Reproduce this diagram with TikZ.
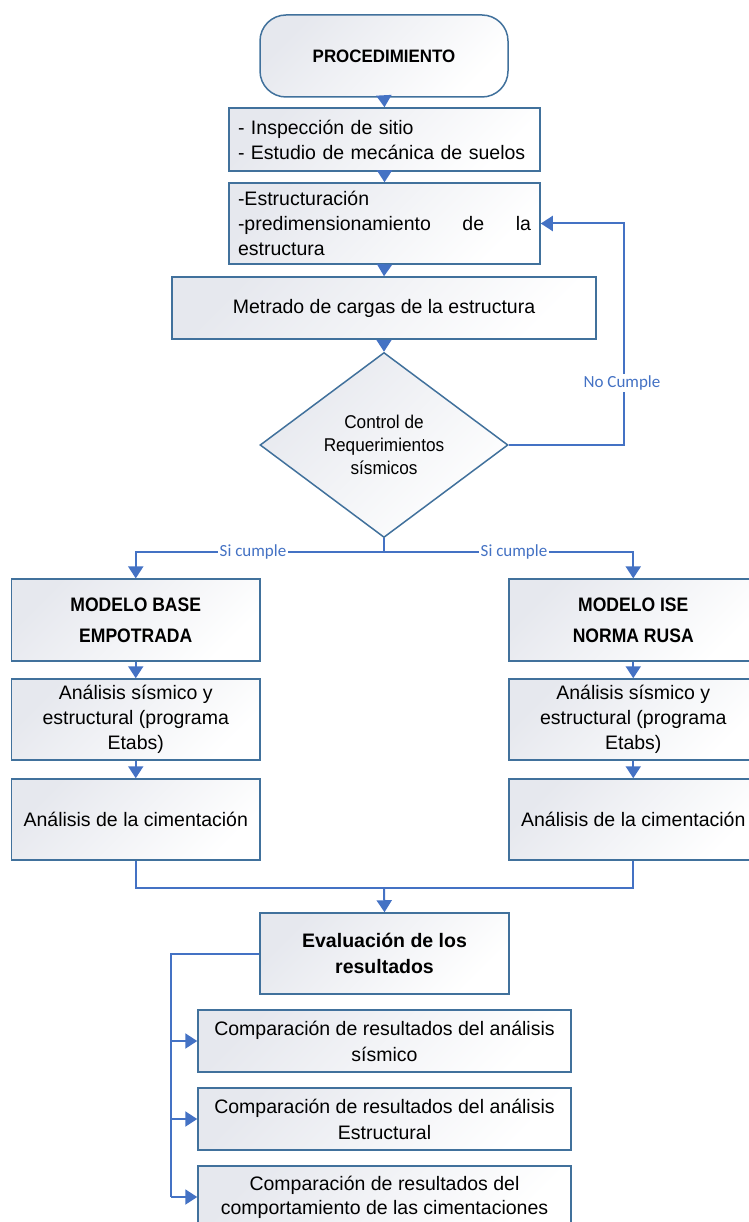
\documentclass[tikz,border=0pt]{standalone}
\usepackage{fontspec}
\setmainfont{Liberation Sans}
\newfontfamily\boldcond[FakeStretch=0.9]{Liberation Sans}
\newfontfamily\titlecond[FakeStretch=0.94]{Liberation Sans}
\newfontfamily\diacond[FakeStretch=0.93]{Liberation Sans}
\newfontfamily\lblfont{Carlito}
\usetikzlibrary{arrows.meta,shapes.geometric}
\definecolor{conn}{HTML}{4472C4}
\definecolor{bord}{HTML}{41719C}
\definecolor{shadec}{HTML}{E6E8EE}
\tikzset{
  box/.style={draw=bord, line width=1.5pt, top color=shadec, bottom color=white,
    shading angle=45, inner sep=0pt, align=center,
    font=\fontsize{19.5}{25}\selectfont},
  boldbox/.style={box, font=\fontsize{19.5}{31}\boldcond\bfseries},
  conline/.style={draw=conn, line width=2pt},
  arr/.style={conline, -{Triangle[length=12pt,width=15pt]}},
  lbl/.style={fill=white, text=conn, inner sep=1.5pt, font=\fontsize{17}{20}\lblfont},
}
\begin{document}
\begin{tikzpicture}[x=1pt,y=-1pt]
\useasboundingbox (0,0) rectangle (748,1222);

% top chain
\node[box, rounded corners=26pt, minimum width=248pt, minimum height=82pt,
  font=\fontsize{18}{22}\titlecond\bfseries] (proc) at (384,56) {PROCEDIMIENTO};
\node[box, minimum width=311pt, minimum height=63pt, text width=293pt, align=left]
  (insp) at (384.5,139.5) {- Inspección de sitio\\- Estudio de mecánica de suelos};
\node[box, minimum width=311pt, minimum height=81pt, text width=293pt, align=left]
  (estr) at (384.5,223.5) {-Estructuración\\-predimensionamiento\hfill de\hfill la\\estructura};
\node[box, minimum width=424pt, minimum height=62pt] (metr) at (384,308)
  {Metrado de cargas de la estructura};
\node[box, diamond, aspect=1.34, minimum width=248pt, minimum height=185pt,
  font=\fontsize{18.5}{23}\diacond] (diam) at (384,445)
  {Control de\\Requerimientos\\sísmicos};

% two columns
\node[boldbox, minimum width=248.5pt, minimum height=81.7pt] (mbase) at (135.75,620)
  {MODELO BASE\\EMPOTRADA};
\node[boldbox, minimum width=248.5pt, minimum height=81.7pt] (mise) at (633.25,620)
  {MODELO ISE\\NORMA RUSA};
\node[box, minimum width=248.5pt, minimum height=81pt] (asL) at (135.75,719.5)
  {Análisis sísmico y\\estructural (programa\\Etabs)};
\node[box, minimum width=248.5pt, minimum height=81pt] (asR) at (633.25,719.5)
  {Análisis sísmico y\\estructural (programa\\Etabs)};
\node[box, minimum width=248.5pt, minimum height=81pt] (acL) at (135.75,819.5)
  {Análisis de la cimentación};
\node[box, minimum width=248.5pt, minimum height=81pt] (acR) at (633.25,819.5)
  {Análisis de la cimentación};

% evaluation
\node[box, minimum width=249pt, minimum height=81pt,
  font=\fontsize{19.5}{26}\selectfont\bfseries] (eval) at (384.5,953.5)
  {Evaluación de los\\resultados};
\node[box, minimum width=373pt, minimum height=62pt,
  font=\fontsize{19.5}{26}\selectfont] (comp1) at (384.5,1041)
  {Comparación de resultados del análisis\\sísmico};
\node[box, minimum width=373pt, minimum height=62pt,
  font=\fontsize{19.5}{26}\selectfont] (comp2) at (384.5,1119)
  {Comparación de resultados del análisis\\Estructural};
\node[box, minimum width=373pt, minimum height=62pt,
  font=\fontsize{19.5}{24}\selectfont] (comp3) at (384.5,1197)
  {Comparación de resultados del\\comportamiento de las cimentaciones};

% connectors top
\draw[arr] (proc.south) -- (insp.north);
\draw[arr] (insp.south) -- (estr.north);
\draw[arr] (estr.south) -- (metr.north);
\draw[arr] (metr.south) -- (diam.north);

% loop back
\coordinate (loopx) at (624,0);
\draw[arr] (diam.east) -- (diam.east -| loopx) -- (loopx |- estr.east) -- (estr.east);
\node[lbl] (nocum) at (622,383) {No Cumple};

% split
\coordinate (split) at (384,552);
\draw[conline] (diam.south) -- (split);
\draw[arr] (split) -| (mbase.north);
\draw[arr] (split) -| (mise.north);
\node[lbl] (sil) at (253,552) {Si cumple};
\node[lbl] (sir) at (514,552) {Si cumple};

% columns
\draw[arr] (mbase.south) -- (asL.north);
\draw[arr] (asL.south) -- (acL.north);
\draw[arr] (mise.south) -- (asR.north);
\draw[arr] (asR.south) -- (acR.north);

% merge
\coordinate (merge) at (384,888);
\draw[conline] (acL.south) |- (merge);
\draw[conline] (acR.south) |- (merge);
\draw[arr] (merge) -- (eval.north);

% branches to comparisons
\coordinate (trunk) at (171,953.5);
\draw[conline] (eval.west) -- (trunk) -- (trunk |- comp3.west);
\draw[arr] (trunk |- comp1.west) -- (comp1.west);
\draw[arr] (trunk |- comp2.west) -- (comp2.west);
\draw[arr] (trunk |- comp3.west) -- (comp3.west);
\end{tikzpicture}
\end{document}
